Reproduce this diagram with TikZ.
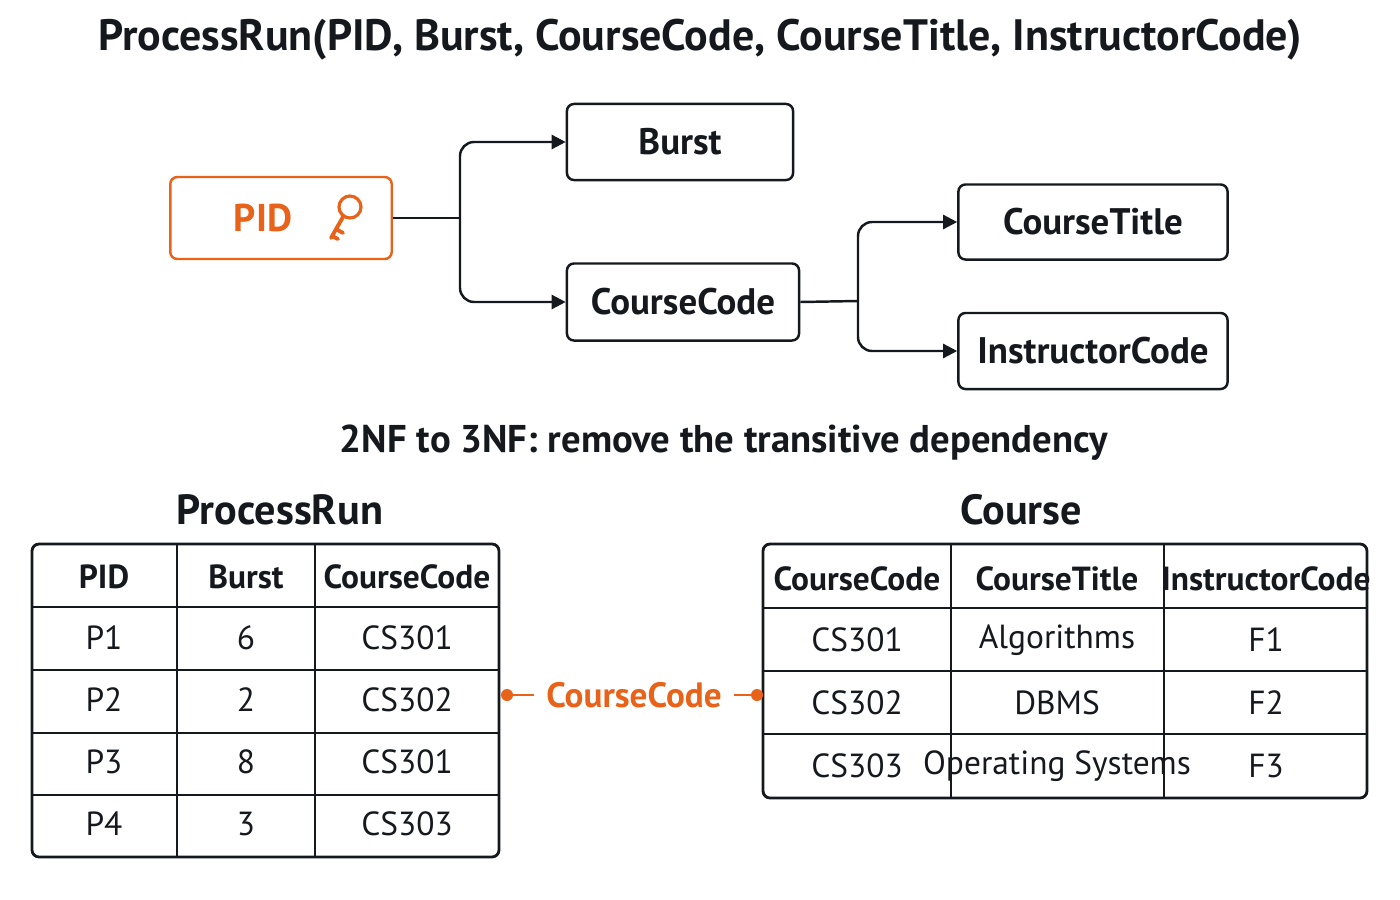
\documentclass[tikz,border=0pt]{standalone}
\usepackage{fontspec}
\setmainfont{PT Sans}
\usetikzlibrary{arrows.meta,positioning}
\definecolor{keyor}{HTML}{E8621A}
\definecolor{ink}{HTML}{15191E}
\begin{document}
\begin{tikzpicture}[x=0.01cm,y=-0.01cm,
    attr/.style={rectangle, rounded corners=2pt, draw=ink, line width=0.7pt, font=\fontsize{10.5}{12}\selectfont\bfseries, text=ink},
    keybox/.style={attr, draw=keyor, text=keyor},
    arrow/.style={-{Triangle[length=4pt,width=4pt]}, line width=0.7pt, draw=ink, rounded corners=4pt},
    grid/.style={line width=0.8pt, draw=ink},
    cell/.style={font=\fontsize{9.5}{11}\selectfont, text=ink},
    head/.style={font=\fontsize{9.5}{11}\selectfont\bfseries, text=ink},
]
\useasboundingbox (0,0) rectangle (1400,900);

% Titles
\node[font=\fontsize{12.5}{14}\selectfont\bfseries, text=ink] (title) at (700,40) {ProcessRun(PID, Burst, CourseCode, CourseTitle, InstructorCode)};
\node[font=\fontsize{11}{13}\selectfont\bfseries, text=ink] (sub) at (724,443) {2NF to 3NF: remove the transitive dependency};
\node[font=\fontsize{12}{14}\selectfont\bfseries, text=ink] (lefttitle) at (280,510) {ProcessRun};
\node[font=\fontsize{12}{14}\selectfont\bfseries, text=ink] (righttitle) at (1021,510) {Course};

% Dependency diagram
\node[keybox, minimum width=6.2cm*0.357, minimum height=0.82cm*0.357*2.8] (pid) at (281,218) {};
\node[font=\fontsize{11}{13}\selectfont\bfseries, text=keyor] (pidtext) at (263,218) {PID};
\draw[keyor, line width=0.9pt] (350,207) circle (11);
\draw[keyor, line width=1.1pt, line cap=round] (343,217) -- (331,238) (336,229) -- (343,233) (332,236) -- (338,239);
\node[attr, minimum width=2.26cm, minimum height=0.76cm] (burst) at (680,142) {Burst};
\node[attr, minimum width=2.32cm, minimum height=0.77cm] (code) at (683,302) {CourseCode};
\node[attr, minimum width=2.69cm, minimum height=0.75cm] (ctitle) at (1093,222) {CourseTitle};
\node[attr, minimum width=2.69cm, minimum height=0.76cm] (instr) at (1093,351) {InstructorCode};

\draw[line width=0.7pt, draw=ink] (pid.east) -- (460,218);
\draw[arrow] (460,218) |- (burst.west);
\draw[arrow] (460,218) |- (code.west);
\draw[line width=0.7pt, draw=ink] (code.east) -- (858,301);
\draw[arrow] (858,301) |- (ctitle.west);
\draw[arrow] (858,301) |- (instr.west);

% ProcessRun table
\draw[grid, rounded corners=2pt] (32,544) rectangle (499,857);
\foreach \x in {177,315} \draw[grid] (\x,544) -- (\x,857);
\foreach \y in {607,670,733,795} \draw[grid] (32,\y) -- (499,\y);
\foreach \t [count=\i] in {PID,Burst,CourseCode}
  \node[head] (lh\i) at ({\i==1 ? 104 : (\i==2 ? 246 : 407)},577) {\t};
\foreach \a/\b/\c [count=\r] in {P1/6/CS301,P2/2/CS302,P3/8/CS301,P4/3/CS303} {
  \node[cell] (la\r) at (104,576+62*\r) {\a};
  \node[cell] (lb\r) at (246,576+62*\r) {\b};
  \node[cell] (lc\r) at (407,576+62*\r) {\c};
}

% Course table
\draw[grid, rounded corners=2pt] (763,544) rectangle (1367,798);
\foreach \x in {951,1164} \draw[grid] (\x,544) -- (\x,798);
\foreach \y in {608,671,734} \draw[grid] (763,\y) -- (1367,\y);
\node[head] (rh1) at (857,579) {CourseCode};
\node[head] (rh2) at (1057,579) {CourseTitle};
\node[head] (rh3) at (1266,579) {InstructorCode};
\foreach \a/\b/\c [count=\r] in {CS301/Algorithms/F1,CS302/DBMS/F2,CS303/Operating Systems/F3} {
  \node[cell] (ra\r) at (857,577+63*\r) {\a};
  \node[cell] (rb\r) at (1057,577+63*\r) {\b};
  \node[cell] (rc\r) at (1266,577+63*\r) {\c};
}

% Link between tables
\coordinate (linkl) at (507,695);
\coordinate (linkr) at (757,695);
\node[font=\fontsize{10}{12}\selectfont\bfseries, text=keyor] (link) at (634,695) {CourseCode};
\fill[keyor] (linkl) circle (6) (linkr) circle (6);
\draw[keyor, line width=0.8pt] (linkl) -- (link.west) (link.east) -- (linkr);
\end{tikzpicture}
\end{document}
